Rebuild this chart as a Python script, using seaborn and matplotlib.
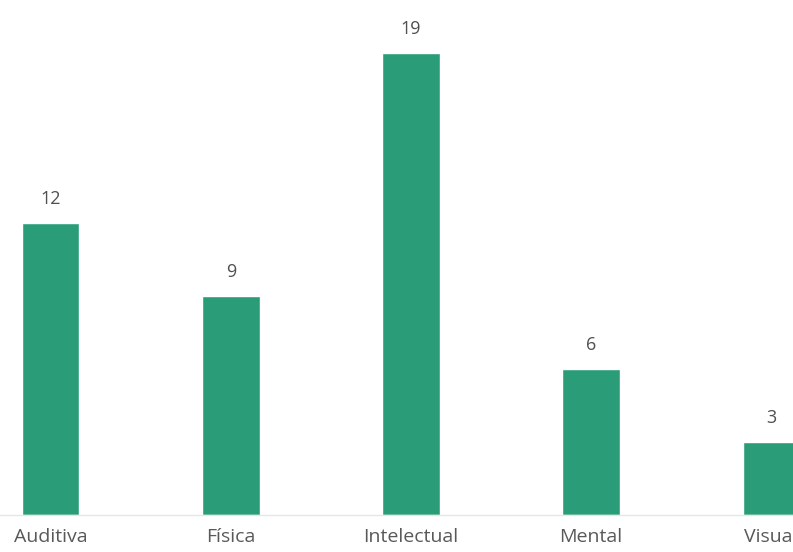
import pandas as pd
import seaborn as sns
import matplotlib.pyplot as plt

# Dados
categorias = ["Auditiva", "Física", "Intelectual", "Mental", "Visual"]
valores = [12, 9, 19, 6, 3]

df = pd.DataFrame({"Tipo": categorias, "Quantidade": valores})

sns.set_theme(style="white")
plt.rcParams["font.family"] = ["Open Sans", "DejaVu Sans"]

fig = plt.figure(figsize=(7.93, 5.52), dpi=100)
ax = fig.add_axes([0, 37 / 552, 1, 515 / 552])

sns.barplot(data=df, x="Tipo", y="Quantidade", color="#2a9d78",
            saturation=1, width=0.317, ax=ax)

ax.set_xlim(-0.283, 4.122)
ax.set_ylim(0, 21.2)

ax.bar_label(ax.containers[0], padding=11, fontsize=13, color="#505050")

ax.set_xlabel("")
ax.set_ylabel("")
ax.set_yticks([])
ax.tick_params(axis="x", length=0, pad=9, labelsize=14, labelcolor="#595959")
for s in ["top", "right", "left"]:
    ax.spines[s].set_visible(False)
ax.spines["bottom"].set_color("#e6e6e6")
ax.spines["bottom"].set_linewidth(1)

plt.savefig("out.png", dpi=100)
